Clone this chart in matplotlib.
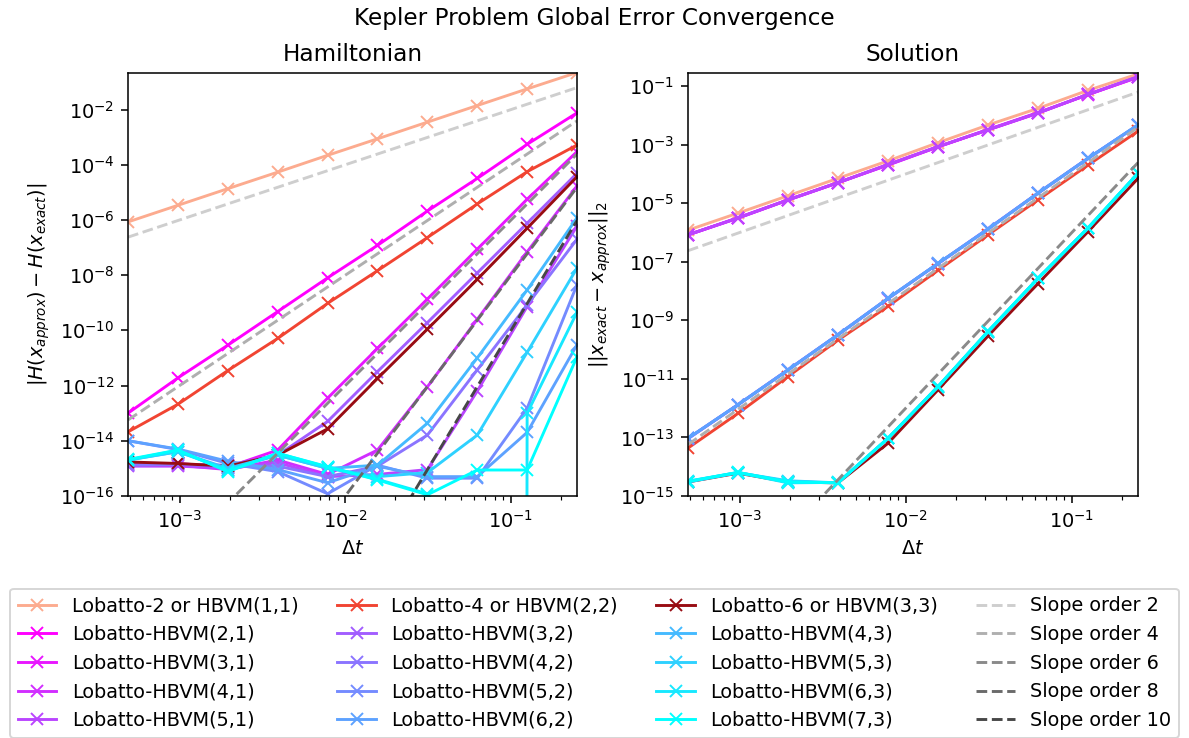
import numpy as np
import matplotlib
matplotlib.use('Agg')
import matplotlib.pyplot as plt

# ---------------- data ----------------
dt = [0.00048828125, 0.0009765625, 0.001953125, 0.00390625, 0.0078125,
      0.015625, 0.03125, 0.0625, 0.125, 0.25]

labels = ["Lobatto-2 or HBVM(1,1)", "Lobatto-HBVM(2,1)", "Lobatto-HBVM(3,1)",
          "Lobatto-HBVM(4,1)", "Lobatto-HBVM(5,1)",
          "Lobatto-4 or HBVM(2,2)", "Lobatto-HBVM(3,2)", "Lobatto-HBVM(4,2)",
          "Lobatto-HBVM(5,2)", "Lobatto-HBVM(6,2)",
          "Lobatto-6 or HBVM(3,3)", "Lobatto-HBVM(4,3)", "Lobatto-HBVM(5,3)",
          "Lobatto-HBVM(6,3)", "Lobatto-HBVM(7,3)"]

# Hamiltonian error
H_lob2 = [8.5e-7, 3.4e-6, 1.36e-5, 5.4e-5, 2.2e-4, 8.7e-4, 3.5e-3, 1.4e-2, 5.6e-2, 2.2e-1]
H_21 = [1.0e-13, 1.9e-12, 2.9e-11, 4.8e-10, 8.0e-9, 1.2e-7, 2.1e-6, 3.2e-5, 5.5e-4, 7.6e-3]
H_31 = [1.4e-15, 1.5e-15, 1.1e-15, 4.6e-15, 3.5e-13, 2.2e-11, 1.35e-9, 8.7e-8, 5.6e-6, 3.0e-4]
H_41 = [1.3e-15, 1.3e-15, 9.0e-16, 2.0e-15, 6.0e-16, 4.6e-15, 9.0e-13, 2.5e-10, 7.0e-8, 1.7e-5]
H_51 = [1.2e-15, 1.2e-15, 1.0e-15, 1.6e-15, 5.0e-16, 6.0e-16, 9.0e-16, 6.3e-13, 7.3e-10, 6.0e-7]
H_lob4 = [2.1e-14, 2.1e-13, 3.5e-12, 5.1e-11, 9.5e-10, 1.45e-8, 2.3e-7, 3.8e-6, 5.6e-5, 5.2e-4]
H_32 = [1.5e-15, 1.4e-15, 1.3e-15, 3.0e-15, 5.0e-14, 3.2e-12, 1.9e-10, 1.2e-8, 7.6e-7, 4.9e-5]
H_42 = [1.3e-15, 1.4e-15, 1.2e-15, 1.2e-15, 5.0e-16, 1.2e-15, 1.6e-14, 3.7e-12, 8.3e-10, 2.0e-7]
H_52 = [1.0e-14, 4.8e-15, 1.5e-15, 7.6e-16, 1.2e-16, 1.3e-15, 4.4e-16, 4.4e-16, 1.5e-13, 4.5e-9]
H_62 = [1.0e-14, 5.0e-15, 1.8e-15, 9.0e-16, 3.0e-16, 1.2e-15, 5.0e-16, 5.0e-16, 2.0e-14, 3.0e-11]
H_lob6 = [1.7e-15, 1.5e-15, 1.2e-15, 3.0e-15, 2.7e-14, 1.8e-12, 1.1e-10, 7.0e-9, 5.0e-7, 3.7e-5]
H_43 = [2.0e-15, 4.0e-15, 1.0e-15, 3.0e-15, 1.0e-15, 1.3e-15, 4.3e-14, 1.0e-11, 2.9e-9, 1.2e-6]
H_53 = [2.0e-15, 4.0e-15, 9.0e-16, 3.0e-15, 1.0e-15, 5.0e-16, 7.0e-16, 1.6e-14, 1.6e-11, 1.8e-8]
H_63 = [2.0e-15, 4.5e-15, 8.0e-16, 3.5e-15, 1.1e-15, 4.0e-16, 1.2e-16, 0.0, 1.0e-13, 4.5e-10]
H_73 = [2.1e-15, 4.6e-15, 7.6e-16, 3.5e-15, 1.15e-15, 3.8e-16, 1.1e-16, 8.7e-16, 8.7e-16, 1.1e-11]

# Solution error
S_lob2 = [1.2e-6, 4.6e-6, 1.8e-5, 7.1e-5, 2.8e-4, 1.17e-3, 4.7e-3, 1.74e-2, 7.2e-2, 2.6e-1]
S_21 = [8.3e-7, 3.1e-6, 1.3e-5, 5.0e-5, 2.1e-4, 8.5e-4, 3.2e-3, 1.2e-2, 5.2e-2, 2.0e-1]
S_31 = [8.2e-7, 3.2e-6, 1.3e-5, 5.1e-5, 2.0e-4, 8.4e-4, 3.3e-3, 1.25e-2, 5.1e-2, 2.05e-1]
S_41 = [8.4e-7, 3.1e-6, 1.28e-5, 5.0e-5, 2.05e-4, 8.5e-4, 3.2e-3, 1.22e-2, 5.2e-2, 2.1e-1]
S_51 = [8.3e-7, 3.15e-6, 1.3e-5, 5.05e-5, 2.1e-4, 8.6e-4, 3.25e-3, 1.2e-2, 5.25e-2, 2.1e-1]
S_lob4 = [4.3e-14, 6.6e-13, 1.2e-11, 2.1e-10, 3.0e-9, 5.1e-8, 8.3e-7, 1.3e-5, 2.0e-4, 2.9e-3]
S_32 = [9.0e-14, 1.3e-12, 2.0e-11, 3.2e-10, 5.5e-9, 8.6e-8, 1.3e-6, 2.2e-5, 3.4e-4, 4.6e-3]
S_42 = [9.3e-14, 1.3e-12, 2.05e-11, 3.2e-10, 5.6e-9, 8.7e-8, 1.35e-6, 2.2e-5, 3.4e-4, 4.7e-3]
S_52 = [9.2e-14, 1.32e-12, 2.0e-11, 3.25e-10, 5.6e-9, 8.7e-8, 1.3e-6, 2.25e-5, 3.45e-4, 4.7e-3]
S_62 = [9.3e-14, 1.3e-12, 2.0e-11, 3.2e-10, 5.6e-9, 8.8e-8, 1.3e-6, 2.2e-5, 3.4e-4, 4.8e-3]
S_lob6 = [3.0e-15, 6.0e-15, 3.0e-15, 2.8e-15, 6.3e-14, 4.2e-12, 2.9e-10, 1.8e-8, 1.07e-6, 7.0e-5]
S_43 = [3.1e-15, 6.3e-15, 3.1e-15, 2.8e-15, 9.3e-14, 5.4e-12, 4.1e-10, 2.7e-8, 1.4e-6, 1.05e-4]
S_53 = [3.0e-15, 6.2e-15, 3.3e-15, 2.8e-15, 9.2e-14, 5.4e-12, 4.1e-10, 2.7e-8, 1.4e-6, 1.04e-4]
S_63 = [3.2e-15, 6.3e-15, 2.8e-15, 2.9e-15, 9.3e-14, 5.5e-12, 4.1e-10, 2.7e-8, 1.4e-6, 1.05e-4]
S_73 = [3.1e-15, 6.4e-15, 3.0e-15, 2.8e-15, 9.3e-14, 5.4e-12, 4.2e-10, 2.7e-8, 1.45e-6, 1.06e-4]

H_series = [H_lob2, H_21, H_31, H_41, H_51, H_lob4, H_32, H_42, H_52, H_62,
            H_lob6, H_43, H_53, H_63, H_73]
S_series = [S_lob2, S_21, S_31, S_41, S_51, S_lob4, S_32, S_42, S_52, S_62,
            S_lob6, S_43, S_53, S_63, S_73]

slope_orders_H = [2, 4, 6, 8, 10]
slope_orders_S = [2, 4, 6]

# ---------------- styling ----------------
reds = plt.cm.Reds([0.3, 0.6, 0.9])
cools = plt.cm.cool(np.linspace(1, 0, 12))
colors = []
ci = 0
for i in range(15):
    if i in (0, 5, 10):
        colors.append(reds[i // 5])
    else:
        colors.append(cools[ci]); ci += 1
greys = plt.cm.Greys(np.linspace(0.3, 0.78, 5))

DPI = 139
fig = plt.figure(figsize=(1189 / DPI, 738 / DPI), dpi=DPI)
ax1 = fig.add_axes([0.1077, 0.328, 0.3776, 0.573])
ax2 = fig.add_axes([0.5786, 0.328, 0.3785, 0.573])

dta = np.array(dt)
for lab, col, h, s in zip(labels, colors, H_series, S_series):
    ax1.loglog(dt, h, marker='x', color=col, label=lab)
    ax2.loglog(dt, s, marker='x', color=col, label=lab)

for j, p in enumerate(slope_orders_H):
    ax1.loglog(dt, dta ** p, '--', color=greys[j], label=f"Slope order {p}")
for j, p in enumerate(slope_orders_S):
    ax2.loglog(dt, dta ** p, '--', color=greys[j], label=f"Slope order {p}")

ax1.set_xlim(dt[0], dt[-1])
ax2.set_xlim(dt[0], dt[-1])
ax1.set_ylim(1e-16, 0.21)
ax2.set_ylim(1e-15, 0.28)

ax1.set_title("Hamiltonian")
ax2.set_title("Solution")
ax1.set_xlabel(r"$\Delta t$")
ax2.set_xlabel(r"$\Delta t$")
ax1.set_ylabel(r"$|H(x_{approx}) - H(x_{exact})|$")
ax2.set_ylabel(r"$||x_{exact} - x_{approx}||_2$")
fig.suptitle("Kepler Problem Global Error Convergence", y=0.99)

handles, labs = ax1.get_legend_handles_labels()
fig.legend(handles, labs, loc='upper center', ncol=4,
           bbox_to_anchor=(0.5, 0.2155))

fig.savefig("out.png", dpi=DPI)
